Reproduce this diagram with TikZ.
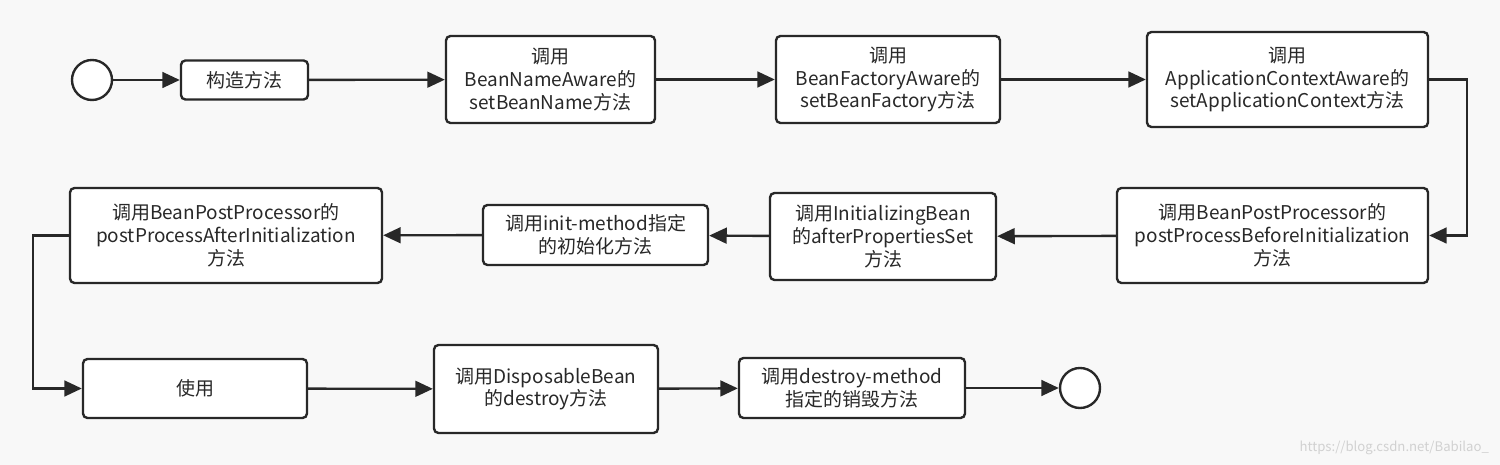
\documentclass[tikz,border=0pt]{standalone}
\usepackage{fontspec}
\setmainfont{Noto Sans CJK SC}
\usetikzlibrary{arrows.meta}
\usetikzlibrary{positioning}
\definecolor{bgcol}{RGB}{248,248,248}
\definecolor{linecol}{RGB}{40,40,40}

\begin{document}
\begin{tikzpicture}[x=0.02cm, y=-0.02cm, line width=1.35pt]
    \tikzstyle{stepbox}=[draw=linecol, fill=white, rounded corners=2.5pt,
                        align=center, inner sep=0pt, text=linecol,
                        font=\fontsize{10.8}{13}\selectfont]
    \tikzstyle{terminal}=[draw=linecol, fill=white, circle, inner sep=0pt,
                         minimum size=0.8cm]
    \tikzstyle{flow}=[draw=linecol, -{Triangle[length=10pt,width=9pt]}]
    \useasboundingbox (0,0) rectangle (1500,465);
    \fill[bgcol] (0,0) rectangle (1500,465);
    % first row
    \node[terminal] (start) at (92,80) {};
    \node[stepbox, minimum width=2.54cm, minimum height=0.78cm] (ctor) at (244.5,80) {构造方法};
    \node[stepbox, minimum width=4.18cm, minimum height=1.74cm] (nameaware) at (550.5,79.5)
        {调用\\BeanNameAware的\\setBeanName方法};
    \node[stepbox, minimum width=4.48cm, minimum height=1.74cm] (factoryaware) at (888,79.5)
        {调用\\BeanFactoryAware的\\setBeanFactory方法};
    \node[stepbox, minimum width=5.62cm, minimum height=1.90cm] (ctxaware) at (1287.5,79.5)
        {调用\\ApplicationContextAware的\\setApplicationContext方法};
    % second row
    \node[stepbox, minimum width=6.22cm, minimum height=1.90cm] (beforeinit) at (1272.5,235.5)
        {调用BeanPostProcessor的\\postProcessBeforeInitialization\\方法};
    \node[stepbox, minimum width=4.52cm, minimum height=1.74cm] (initbean) at (883,236.5)
        {调用InitializingBean\\的afterPropertiesSet\\方法};
    \node[stepbox, minimum width=4.50cm, minimum height=1.20cm] (initmethod) at (595.5,235)
        {调用init-method指定\\的初始化方法};
    \node[stepbox, minimum width=6.24cm, minimum height=1.90cm] (afterinit) at (226,235.5)
        {调用BeanPostProcessor的\\postProcessAfterInitialization\\方法};
    % third row
    \node[stepbox, minimum width=4.48cm, minimum height=1.18cm] (use) at (195,388.5) {使用};
    \node[stepbox, minimum width=4.48cm, minimum height=1.76cm] (disposable) at (546,389)
        {调用DisposableBean\\的destroy方法};
    \node[stepbox, minimum width=4.52cm, minimum height=1.20cm] (destroymethod) at (852,388)
        {调用destroy-method\\指定的销毁方法};
    \node[terminal] (end) at (1080,388) {};
    % bends between rows
    \coordinate (rturn) at (1467,157);
    \coordinate (lturn) at (33,310);
    \foreach \speer/\peer in {start/ctor, ctor/nameaware, nameaware/factoryaware,
                              factoryaware/ctxaware, beforeinit/initbean, initbean/initmethod,
                              initmethod/afterinit, use/disposable, disposable/destroymethod,
                              destroymethod/end}
        \path[flow] (\speer) -- (\peer);
    \draw[flow] (ctxaware.east) -| (rturn) |- (beforeinit.east);
    \draw[flow] (afterinit.west) -| (lturn) |- (use.west);
    \node[text=black!18, font=\fontsize{7.5}{9}\selectfont, anchor=east] (mark) at (1496,448)
        {https://blog.csdn.net/Babilao\_};
\end{tikzpicture}
\end{document}
